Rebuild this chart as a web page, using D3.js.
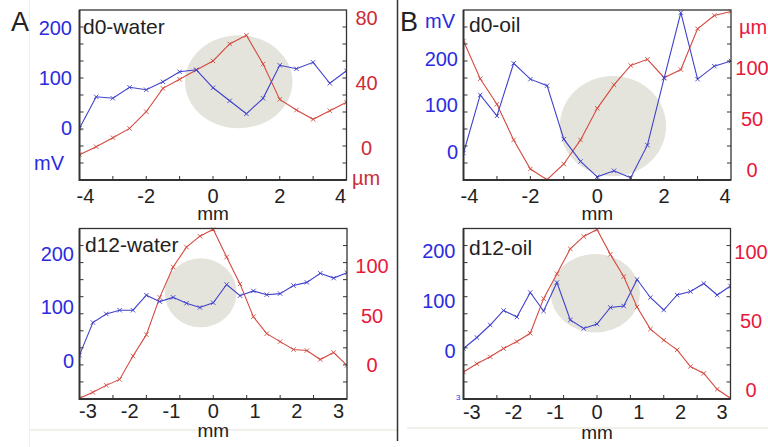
<!DOCTYPE html>
<html><head><meta charset="utf-8">
<script src="https://cdn.jsdelivr.net/npm/d3@7/dist/d3.min.js"></script>
<style>
html,body{margin:0;padding:0;background:#fff;}
svg{display:block;font-family:"Liberation Sans",Arial,sans-serif;}
</style></head>
<body>
<svg id="c" width="768" height="447"></svg>
<script>
// ---------- data ----------
const xTop = [-4,-3.5,-3,-2.5,-2,-1.5,-1,-0.5,0,0.5,1,1.5,2,2.5,3,3.5,4];
const xBottom = [-3.2,-2.88,-2.56,-2.24,-1.92,-1.6,-1.28,-0.96,-0.64,-0.32,0,0.32,0.64,0.96,1.28,1.6,1.92,2.24,2.56,2.88,3.2];

const d0WaterMV = [0,63,60,82,77,93,113,117,81,55,29,60,126,119,132,90,115];
const d0WaterUM = [-4.1,0.8,6.4,12.1,22.4,36.8,42.4,48.1,53.7,64.2,69.5,51.8,30,23.4,17.7,23,28.2];
const d0OilMV = [-3,122,77,190,156,142,27,-21,-54,-41,-56,14,158,299,156,184,195];
const d0OilUM = [127,90,65,30,1.5,-9,6.4,30,61,84,103,109,91,99,139,152,156];
const d12WaterMV = [11,72,88,95,95,123,111,119,108,100,109,143,122,131,124,126,141,147,164,155,165];
const d12WaterUM = [-33,-27,-20,-14,9.5,31,68.5,99,119,130,137,109,82,49,32,24,16,15,6,13,0];
const d12OilMV = [6,28,53,82,69,118,81,138,63,46,55,88,91,144,108,83,113,120,136,113,131];
const d12OilUM = [13,19,24,30,35,41,66,84,102,111,116,98,82,60,44,36,29,17,12,0.5,-6];

const titles = ["d0-water","d0-oil","d12-water","d12-oil"];
const mvTicks = [0,100,200];
const umTicksA0 = [0,40,80];
const umTicks = [0,50,100];
const xTicksTop = [-4,-2,0,2,4];
const xTicksBottom = [-3,-2,-1,0,1,2,3];
// shaded region: [center mm, center mV, radius mm, radius mV]
const shadeA0 = [0.77,93,1.61,93];
const shadeB0 = [0.47,55,1.59,108];
const shadeA12 = [-0.30,127.5,0.86,64.5];
const shadeB12 = [-0.04,116.6,1.07,78.4];

// ---------- layout ----------
const BLUE_LINE="#4040cc", RED_LINE="#d44a40", BLUE_TXT="#2b2be0";
const panels = [
 {title:titles[0], xs:xTop, mv:d0WaterMV, um:d0WaterUM, xt:xTicksTop, ut:umTicksA0, shade:shadeA0,
  L:79.5,R:346.5,T:10,B:180, xd:[-4,4], mvd:[-103.4,236.6], umd:[-19.7,85.1],
  lPad:7.5, rOff:20, redTxt:"#cc2c38", xlOff:16, mmY:220, titleX:83, titleY:27,
  mvLab:[49,163], umLab:[366,178]},
 {title:titles[1], xs:xTop, mv:d0OilMV, um:d0OilUM, xt:xTicksTop, ut:umTicks, shade:shadeB0,
  L:463.5,R:731,T:10,B:180, xd:[-4,4], mvd:[-60.9,304.7], umd:[-9.3,157.4],
  lPad:5.5, rOff:21, redTxt:"#e8173c", xlOff:16, mmY:220, titleX:469, titleY:25,
  mvLab:[440,21], umLab:[753,27]},
 {title:titles[2], xs:xBottom, mv:d12WaterMV, um:d12WaterUM, xt:xTicksBottom, ut:umTicks, shade:shadeA12,
  L:79.5,R:347,T:228.5,B:399, xd:[-3.2,3.2], mvd:[-71,247.7], umd:[-33.7,137.7],
  lPad:5.5, rOff:25, redTxt:"#e8173c", xlOff:12, mmY:437, titleX:85, titleY:245},
 {title:titles[3], xs:xBottom, mv:d12OilMV, um:d12OilUM, xt:xTicksBottom, ut:umTicks, shade:shadeB12,
  L:463.5,R:730.5,T:228.5,B:399, xd:[-3.2,3.2], mvd:[-95,246], umd:[-6.5,116.7],
  lPad:8, rOff:20.5, redTxt:"#e8173c", xlOff:13, mmY:439, titleX:469, titleY:248}
];

const svg = d3.select("#c");

// faint scan edges and divider
svg.append("line").attr("x1",29.5).attr("x2",29.5).attr("y1",0).attr("y2",447).attr("stroke","#f0f0ec").attr("stroke-width",1);
svg.append("line").attr("x1",29).attr("x2",397).attr("y1",430).attr("y2",430).attr("stroke","#ececE6").attr("stroke-width",1.5);
svg.append("line").attr("x1",407).attr("x2",768).attr("y1",428).attr("y2",428).attr("stroke","#ececE6").attr("stroke-width",1.5);
svg.append("line").attr("x1",397.5).attr("x2",397.5).attr("y1",0).attr("y2",441).attr("stroke","#333").attr("stroke-width",1.5);

svg.append("text").attr("x",11).attr("y",31).attr("font-size",27).attr("fill","#222").text("A");
svg.append("text").attr("x",400).attr("y",31).attr("font-size",27).attr("fill","#222").text("B");

const fmt = d => String(d);

panels.forEach((p,i)=>{
  const g = svg.append("g");
  const x = d3.scaleLinear().domain(p.xd).range([p.L,p.R]);
  const yL = d3.scaleLinear().domain(p.mvd).range([p.B,p.T]);
  const yR = d3.scaleLinear().domain(p.umd).range([p.B,p.T]);
  const clipId = "clip"+i;
  svg.append("clipPath").attr("id",clipId).append("rect")
     .attr("x",p.L).attr("y",p.T-1).attr("width",p.R-p.L).attr("height",p.B-p.T+1);
  const plot = g.append("g").attr("clip-path",`url(#${clipId})`);
  // shaded ellipse
  const s = p.shade;
  plot.append("ellipse").attr("cx",x(s[0])).attr("cy",yL(s[1]))
     .attr("rx",x(s[0]+s[2])-x(s[0])).attr("ry",yL(s[1])-yL(s[1]+s[3]))
     .attr("fill","#e4e4dc");
  // series
  const series = [
    {vals:p.um, y:yR, c:RED_LINE},
    {vals:p.mv, y:yL, c:BLUE_LINE}
  ];
  series.forEach(sr=>{
    const pts = p.xs.map((xv,k)=>[x(xv), sr.y(sr.vals[k])]);
    plot.append("path").attr("d",d3.line()(pts)).attr("fill","none")
      .attr("stroke",sr.c).attr("stroke-width",1.1);
    const m=2.2;
    plot.append("g").selectAll("path").data(pts).join("path")
      .attr("d",d=>`M${d[0]-m},${d[1]-m}L${d[0]+m},${d[1]+m}M${d[0]-m},${d[1]+m}L${d[0]+m},${d[1]-m}`)
      .attr("stroke",sr.c).attr("stroke-width",0.9);
  });
  // box
  g.append("rect").attr("x",p.L).attr("y",p.T).attr("width",p.R-p.L).attr("height",p.B-p.T)
    .attr("fill","none").attr("stroke","#333").attr("stroke-width",1.3);
  g.append("line").attr("x1",p.L).attr("x2",p.L).attr("y1",p.T).attr("y2",p.B+1).attr("stroke","#333").attr("stroke-width",1.8);
  g.append("line").attr("x1",p.L).attr("x2",p.R).attr("y1",p.B).attr("y2",p.B).attr("stroke","#333").attr("stroke-width",1.8);
  // division ticks (10 vertical, 8 horizontal)
  const dy = d3.scaleLinear().domain([0,10]).range([p.B,p.T]);
  const dx = d3.scaleLinear().domain([0,8]).range([p.L,p.R]);
  const yt = dy.ticks(10).filter(t=>t>0&&t<10);
  const xtk = dx.ticks(8).filter(t=>t>0&&t<8);
  g.append("g").selectAll("line").data(yt).join("line")
    .attr("x1",p.L).attr("x2",p.L+4).attr("y1",d=>dy(d)).attr("y2",d=>dy(d)).attr("stroke","#333").attr("stroke-width",1);
  g.append("g").selectAll("line").data(yt).join("line")
    .attr("x1",p.R).attr("x2",p.R-4).attr("y1",d=>dy(d)).attr("y2",d=>dy(d)).attr("stroke","#333").attr("stroke-width",1);
  g.append("g").selectAll("line").data(xtk).join("line")
    .attr("x1",d=>dx(d)).attr("x2",d=>dx(d)).attr("y1",p.B).attr("y2",p.B-4).attr("stroke","#333").attr("stroke-width",1);

  // left axis labels
  const la = g.append("g").attr("transform",`translate(${p.L},0)`)
    .call(d3.axisLeft(yL).tickValues(mvTicks).tickSize(0).tickPadding(p.lPad).tickFormat(fmt));
  la.select(".domain").remove();
  la.selectAll("text").attr("font-size",20).attr("fill",BLUE_TXT).attr("font-family","Liberation Sans, Arial");
  // right axis labels (centered)
  const ra = g.append("g").attr("transform",`translate(${p.R},0)`)
    .call(d3.axisRight(yR).tickValues(p.ut).tickSize(0).tickFormat(fmt));
  ra.select(".domain").remove();
  ra.selectAll("text").attr("x",p.rOff).attr("text-anchor","middle").attr("font-size",20)
    .attr("fill",p.redTxt).attr("font-family","Liberation Sans, Arial");
  // bottom axis labels
  const ba = g.append("g").attr("transform",`translate(0,${p.B})`)
    .call(d3.axisBottom(x).tickValues(p.xt).tickSize(0).tickFormat(fmt));
  ba.select(".domain").remove();
  ba.selectAll(".tick").attr("transform",d=>`translate(${Math.max(p.L+6,Math.min(p.R-6,x(d)))},0)`);
  ba.selectAll("text").attr("y",p.xlOff).attr("dy","0.35em").attr("font-size",20)
    .attr("fill","#222").attr("font-family","Liberation Sans, Arial");
  g.append("text").attr("x",(p.L+p.R)/2).attr("y",p.mmY).attr("text-anchor","middle")
    .attr("font-size",19).attr("fill","#222").text("mm");
  // title
  g.append("text").attr("x",p.titleX).attr("y",p.titleY).attr("dy","0.35em")
    .attr("font-size",21).attr("fill","#222").text(p.title);
  if(p.mvLab){
    g.append("text").attr("x",p.mvLab[0]).attr("y",p.mvLab[1]).attr("dy","0.35em").attr("text-anchor","middle")
      .attr("font-size",20).attr("fill",BLUE_TXT).text("mV");
    g.append("text").attr("x",p.umLab[0]).attr("y",p.umLab[1]).attr("dy","0.35em").attr("text-anchor","middle")
      .attr("font-size",20).attr("fill",p.redTxt).text("µm");
  }
});
svg.append("text").attr("x",456).attr("y",400).attr("font-size",8).attr("fill",BLUE_TXT).text("3");
</script>
</body></html>
